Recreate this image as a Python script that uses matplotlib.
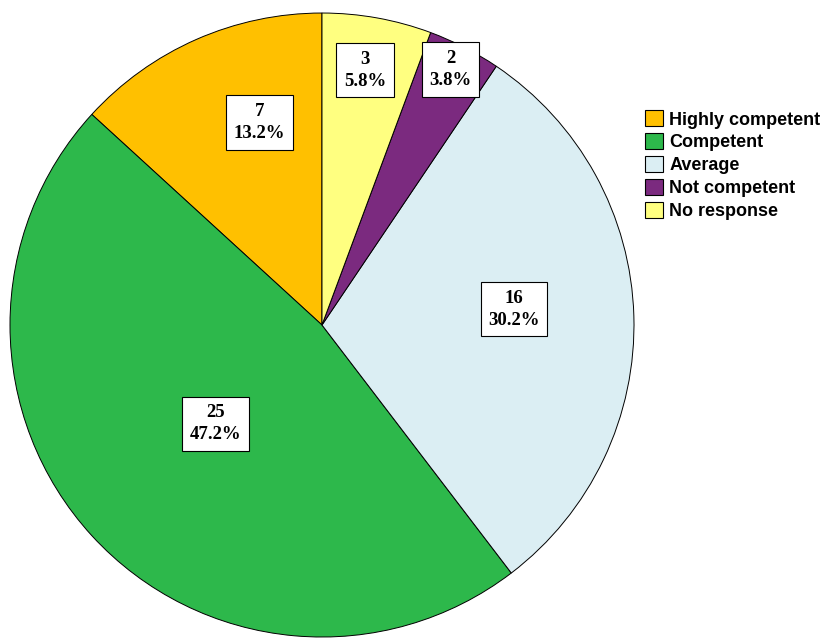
import matplotlib

matplotlib.use("Agg")

import matplotlib.pyplot as plt
from matplotlib.patches import Patch

categories = ["Highly competent", "Competent", "Average", "Not competent", "No response"]
counts = [7, 25, 16, 2, 3]
percents = ["13.2%", "47.2%", "30.2%", "3.8%", "5.8%"]
colors = ["#FFC000", "#2DB84B", "#DBEEF3", "#7B2A7F", "#FFFF80"]

# where each value box sits, in units of the pie radius
label_xy = [(-0.200, 0.649), (-0.341, -0.316), (0.615, 0.051),
            (0.413, 0.819), (0.138, 0.817)]

fig = plt.figure(figsize=(8.29, 6.41), dpi=100)
ax = fig.add_axes([0.01206, 0.0062, 0.7527, 0.9735])

wedges, _ = ax.pie(
    counts, colors=colors, startangle=90, counterclock=True,
    wedgeprops={"edgecolor": "black", "linewidth": 0.7},
)
ax.set_xlim(-1, 1)
ax.set_ylim(-1, 1)
ax.set_aspect("equal")
ax.axis("off")

for n, pct, (x, y) in zip(counts, percents, label_xy):
    ax.text(x, y, f"{n}\n{pct}",
            ha="center", va="center", family="Liberation Serif",
            fontweight="bold", fontsize=13.5, linespacing=1.4,
            bbox={"boxstyle": "square,pad=0.4", "facecolor": "white",
                  "edgecolor": "black", "linewidth": 0.8})

handles = [Patch(facecolor=c, edgecolor="black", linewidth=0.8) for c in colors]
fig.legend(handles, categories, loc="upper left", bbox_to_anchor=(0.778, 0.828),
           frameon=False, prop={"family": "Liberation Sans", "weight": "bold", "size": 13},
           handlelength=1.0, handleheight=1.0, handletextpad=0.35,
           labelspacing=0.26, borderaxespad=0, borderpad=0)

fig.savefig("out.png", dpi=100)
